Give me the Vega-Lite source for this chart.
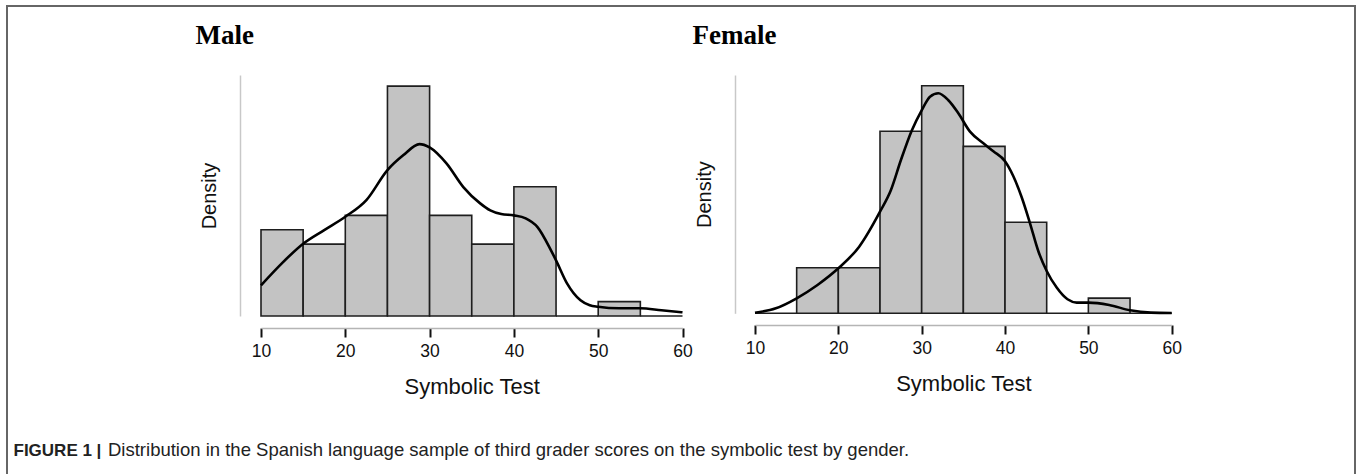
{
  "$schema": "https://vega.github.io/schema/vega-lite/v6.json",
  "width": 1348,
  "height": 470,
  "autosize": {"type": "none"},
  "padding": {"left": 7, "top": 6, "right": 2, "bottom": -2},
  "background": "white",
  "config": {
    "view": {"stroke": "#666666", "strokeWidth": 2},
    "axis": {"labelFont": "Liberation Sans", "titleFont": "Liberation Sans", "grid": false}
  },
  "title": {
    "text": "Distribution in the Spanish language sample of third grader scores on the symbolic test by gender.",
    "orient": "bottom",
    "frame": "group",
    "anchor": "start",
    "baseline": "alphabetic",
    "offset": -20.5,
    "dx": 101,
    "font": "Liberation Sans",
    "fontSize": 18.5,
    "fontWeight": "normal",
    "color": "#222222"
  },
  "datasets": {
    "male_bins": [
      {"bin_start": 10, "bin_end": 15, "count": 6, "density": 0.02143},
      {"bin_start": 15, "bin_end": 20, "count": 5, "density": 0.01786},
      {"bin_start": 20, "bin_end": 25, "count": 7, "density": 0.025},
      {"bin_start": 25, "bin_end": 30, "count": 16, "density": 0.05714},
      {"bin_start": 30, "bin_end": 35, "count": 7, "density": 0.025},
      {"bin_start": 35, "bin_end": 40, "count": 5, "density": 0.01786},
      {"bin_start": 40, "bin_end": 45, "count": 9, "density": 0.03214},
      {"bin_start": 45, "bin_end": 50, "count": 0, "density": 0},
      {"bin_start": 50, "bin_end": 55, "count": 1, "density": 0.00357},
      {"bin_start": 55, "bin_end": 60, "count": 0, "density": 0}
    ],
    "male_kde": [
      {"score": 10, "density": 0.00763},
      {"score": 12.5, "density": 0.01316},
      {"score": 15, "density": 0.01796},
      {"score": 17.5, "density": 0.02136},
      {"score": 20, "density": 0.02467},
      {"score": 22.5, "density": 0.02881},
      {"score": 25, "density": 0.03626},
      {"score": 26.9, "density": 0.03999},
      {"score": 28.8, "density": 0.04272},
      {"score": 30, "density": 0.0419},
      {"score": 32, "density": 0.03793},
      {"score": 34, "density": 0.03204},
      {"score": 36, "density": 0.02799},
      {"score": 37.2, "density": 0.02625},
      {"score": 38.5, "density": 0.02534},
      {"score": 40, "density": 0.02501},
      {"score": 41.4, "density": 0.02427},
      {"score": 42.8, "density": 0.02211},
      {"score": 44.4, "density": 0.01632},
      {"score": 45, "density": 0.01384},
      {"score": 46.3, "density": 0.00812},
      {"score": 47.9, "density": 0.0039},
      {"score": 49, "density": 0.00266},
      {"score": 50, "density": 0.00229},
      {"score": 52.5, "density": 0.00191},
      {"score": 55, "density": 0.00191},
      {"score": 57.5, "density": 0.00142},
      {"score": 60, "density": 0.00092}
    ],
    "female_bins": [
      {"bin_start": 10, "bin_end": 15, "count": 0, "density": 0},
      {"bin_start": 15, "bin_end": 20, "count": 3, "density": 0.01176},
      {"bin_start": 20, "bin_end": 25, "count": 3, "density": 0.01176},
      {"bin_start": 25, "bin_end": 30, "count": 12, "density": 0.04706},
      {"bin_start": 30, "bin_end": 35, "count": 15, "density": 0.05882},
      {"bin_start": 35, "bin_end": 40, "count": 11, "density": 0.04314},
      {"bin_start": 40, "bin_end": 45, "count": 6, "density": 0.02353},
      {"bin_start": 45, "bin_end": 50, "count": 0, "density": 0},
      {"bin_start": 50, "bin_end": 55, "count": 1, "density": 0.00392},
      {"bin_start": 55, "bin_end": 60, "count": 0, "density": 0}
    ],
    "female_kde": [
      {"score": 10, "density": 0.00013},
      {"score": 12.5, "density": 0.00129},
      {"score": 15, "density": 0.00388},
      {"score": 17.5, "density": 0.00732},
      {"score": 20, "density": 0.01163},
      {"score": 22.5, "density": 0.01722},
      {"score": 25, "density": 0.02627},
      {"score": 26.3, "density": 0.0318},
      {"score": 27.5, "density": 0.03956},
      {"score": 28.8, "density": 0.04721},
      {"score": 30, "density": 0.05248},
      {"score": 31, "density": 0.056},
      {"score": 32, "density": 0.05688},
      {"score": 33.2, "density": 0.05507},
      {"score": 34.4, "density": 0.05171},
      {"score": 35.8, "density": 0.04695},
      {"score": 37.4, "density": 0.04395},
      {"score": 38.6, "density": 0.04188},
      {"score": 40, "density": 0.0393},
      {"score": 41, "density": 0.03542},
      {"score": 42, "density": 0.02999},
      {"score": 43, "density": 0.02327},
      {"score": 44, "density": 0.01603},
      {"score": 45, "density": 0.01094},
      {"score": 46.2, "density": 0.00664},
      {"score": 47.5, "density": 0.00362},
      {"score": 48.6, "density": 0.00277},
      {"score": 50, "density": 0.00277},
      {"score": 52.5, "density": 0.00215},
      {"score": 55, "density": 0.00078},
      {"score": 57.5, "density": 0.00018},
      {"score": 60, "density": 0.00008}
    ]
  },
  "layer": [
    {
      "layer": [
        {
          "data": {"name": "male_bins"},
          "mark": {"type": "rect", "fill": "#c3c3c3", "stroke": "#1e1e1e", "strokeWidth": 1.6},
          "encoding": {
            "x": {
              "field": "bin_start", "type": "quantitative",
              "scale": {"domain": [10, 60], "range": [254, 675.5], "nice": false, "zero": false},
              "axis": {
                "orient": "bottom", "offset": -148, "values": [10, 20, 30, 40, 50, 60], "format": "d",
                "domainColor": "#b5b5b5", "domainWidth": 1.5,
                "tickColor": "#111111", "tickWidth": 2, "tickSize": 9,
                "labelFontSize": 17.5, "labelColor": "#111111", "labelPadding": 5, "labelFlush": false, "labelOverlap": false,
                "title": "Symbolic Test", "titleFontSize": 22, "titleFontWeight": "normal", "titleColor": "#111111", "titlePadding": 17
              }
            },
            "x2": {"field": "bin_end"},
            "y": {
              "field": "density", "type": "quantitative",
              "scale": {"domain": [0, 0.0599], "range": [310, 69], "nice": false},
              "axis": {
                "orient": "left", "offset": -233, "domainColor": "#c8c8c8", "domainWidth": 1.5,
                "ticks": false, "labels": false,
                "title": "Density", "titleFontSize": 20, "titleFontWeight": "normal", "titleColor": "#111111", "titlePadding": 21
              }
            },
            "y2": {"datum": 0}
          }
        },
        {
          "data": {"name": "male_kde"},
          "mark": {"type": "line", "color": "#000000", "strokeWidth": 2.6, "interpolate": "monotone"},
          "encoding": {
            "x": {
              "field": "score", "type": "quantitative",
              "axis": {
                "orient": "top", "offset": 0, "domain": false, "ticks": false, "labels": false,
                "title": "Male", "titleFont": "Liberation Serif", "titleFontSize": 27, "titleFontWeight": "bold",
                "titleColor": "#000000", "titleX": 188, "titleY": 37, "titleAlign": "left", "titleBaseline": "alphabetic", "titleAngle": 0
              }
            },
            "y": {
              "field": "density", "type": "quantitative",
              "axis": {
                "orient": "left", "offset": -233, "domainColor": "#c8c8c8", "domainWidth": 1.5,
                "ticks": false, "labels": false,
                "title": "Density", "titleFontSize": 20, "titleFontWeight": "normal", "titleColor": "#111111", "titlePadding": 21
              }
            }
          }
        }
      ]
    },
    {
      "layer": [
        {
          "data": {"name": "female_bins"},
          "mark": {"type": "rect", "fill": "#c3c3c3", "stroke": "#1e1e1e", "strokeWidth": 1.6},
          "encoding": {
            "x": {
              "field": "bin_start", "type": "quantitative",
              "scale": {"domain": [10, 60], "range": [748, 1164.7], "nice": false, "zero": false},
              "axis": {
                "orient": "bottom", "offset": -151, "values": [10, 20, 30, 40, 50, 60], "format": "d",
                "domainColor": "#b5b5b5", "domainWidth": 1.5,
                "tickColor": "#111111", "tickWidth": 2, "tickSize": 9,
                "labelFontSize": 17.5, "labelColor": "#111111", "labelPadding": 5, "labelFlush": false, "labelOverlap": false,
                "title": "Symbolic Test", "titleFontSize": 22, "titleFontWeight": "normal", "titleColor": "#111111", "titlePadding": 17
              }
            },
            "x2": {"field": "bin_end"},
            "y": {
              "field": "density", "type": "quantitative",
              "scale": {"domain": [0, 0.0616], "range": [307.3, 69], "nice": false},
              "axis": {
                "orient": "left", "offset": -728, "domainColor": "#c8c8c8", "domainWidth": 1.5,
                "ticks": false, "labels": false,
                "title": "Density", "titleFontSize": 20, "titleFontWeight": "normal", "titleColor": "#111111", "titlePadding": 21
              }
            },
            "y2": {"datum": 0}
          }
        },
        {
          "data": {"name": "female_kde"},
          "mark": {"type": "line", "color": "#000000", "strokeWidth": 2.6, "interpolate": "monotone"},
          "encoding": {
            "x": {
              "field": "score", "type": "quantitative",
              "axis": {
                "orient": "top", "offset": 0, "domain": false, "ticks": false, "labels": false,
                "title": "Female", "titleFont": "Liberation Serif", "titleFontSize": 27, "titleFontWeight": "bold",
                "titleColor": "#000000", "titleX": 685, "titleY": 37, "titleAlign": "left", "titleBaseline": "alphabetic", "titleAngle": 0
              }
            },
            "y": {
              "field": "density", "type": "quantitative",
              "axis": {
                "orient": "right", "offset": 0, "domain": false, "ticks": false, "labels": false,
                "title": "FIGURE 1 |", "titleFont": "Liberation Sans", "titleFontSize": 17, "titleFontWeight": "bold",
                "titleColor": "#222222", "titleX": -1342, "titleY": 449.5, "titleAlign": "left", "titleBaseline": "alphabetic", "titleAngle": 0
              }
            }
          }
        }
      ]
    }
  ],
  "resolve": {
    "scale": {"x": "independent", "y": "independent"},
    "axis": {"x": "independent", "y": "independent"}
  }
}
